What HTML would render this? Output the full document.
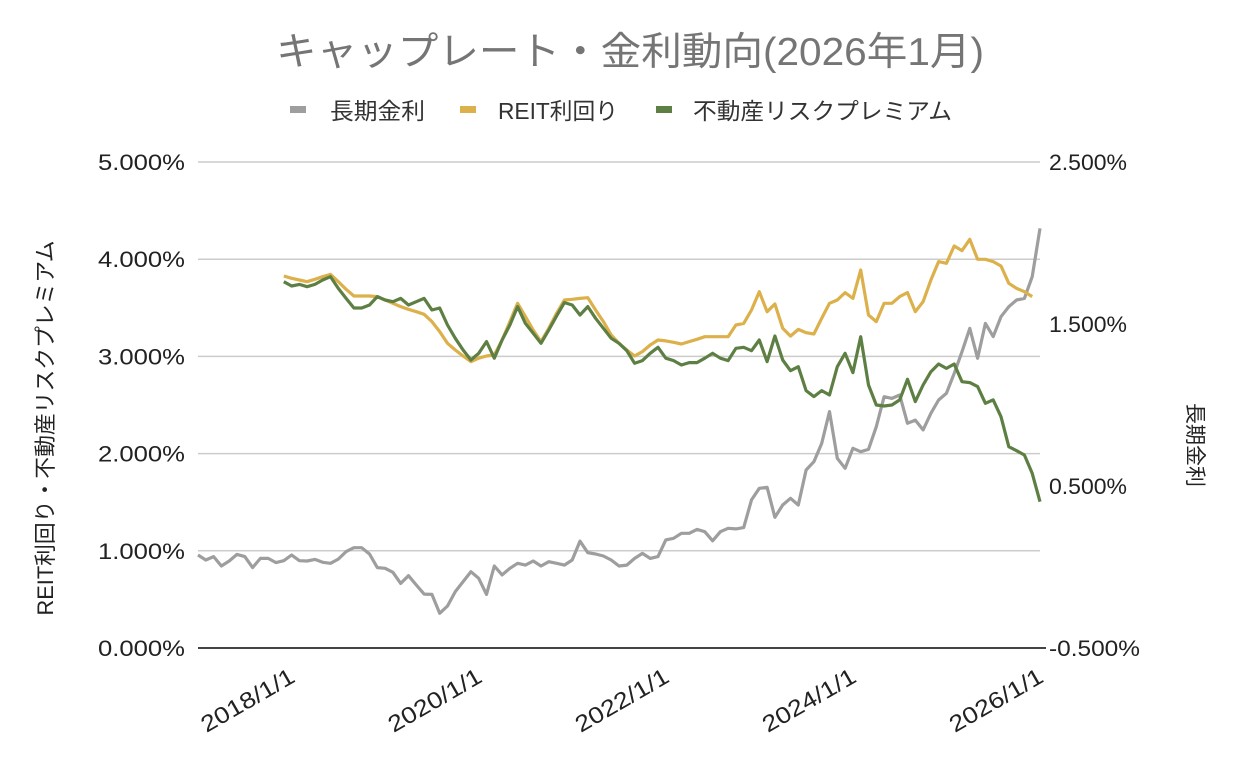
<!DOCTYPE html>
<html><head><meta charset="utf-8">
<style>
html,body{margin:0;padding:0;background:#fff;}
svg text{font-family:"Liberation Sans","Noto Sans CJK JP",sans-serif;}
</style></head>
<body>
<svg id="chart" width="1242" height="764" viewBox="0 0 1242 764" xmlns="http://www.w3.org/2000/svg">
<text x="630" y="65" text-anchor="middle" font-size="39" fill="#757575" textLength="708" lengthAdjust="spacingAndGlyphs">キャップレート・金利動向(2026年1月)</text>
<g>
  <g><rect x="290" y="106" width="16" height="7" fill="#9e9e9e"/><text x="330" y="119" font-size="23" fill="#333" textLength="95" lengthAdjust="spacingAndGlyphs">長期金利</text></g>
  <g><rect x="460" y="106" width="16" height="7" fill="#dcb04a"/><text x="498" y="119" font-size="23" fill="#333" textLength="120" lengthAdjust="spacingAndGlyphs">REIT利回り</text></g>
  <g><rect x="656" y="106" width="16" height="7" fill="#5e7f43"/><text x="693" y="119" font-size="23" fill="#333" textLength="259" lengthAdjust="spacingAndGlyphs">不動産リスクプレミアム</text></g>
</g>
<g id="grid"></g>
<g id="yleft"></g>
<g id="yright"></g>
<g id="xaxis"></g>
<g id="series"></g>
<text transform="translate(53,428) rotate(-90)" text-anchor="middle" font-size="22" fill="#222" textLength="375" lengthAdjust="spacingAndGlyphs">REIT利回り・不動産リスクプレミアム</text>
<text transform="translate(1188,445) rotate(90)" text-anchor="middle" font-size="21" fill="#222">長期金利</text>
</svg>
<script>
const leftTicks=[0,1,2,3,4,5];
const leftTickLabels=["0.000%","1.000%","2.000%","3.000%","4.000%","5.000%"];
const rightTicks=[-0.5,0.5,1.5,2.5];
const rightTickLabels=["-0.500%","0.500%","1.500%","2.500%"];
const xTickMonths=[12,36,60,84,108];
const xTickLabels=["2018/1/1","2020/1/1","2022/1/1","2024/1/1","2026/1/1"];
const totalMonths=108; // 2017/1 .. 2026/1
const longRate=[0.074,0.043,0.064,0.006,0.037,0.078,0.064,-0.004,0.053,0.053,0.027,0.039,0.074,0.039,0.037,0.047,0.029,0.023,0.049,0.095,0.119,0.119,0.080,-0.004,-0.008,-0.033,-0.101,-0.054,-0.111,-0.167,-0.169,-0.286,-0.241,-0.152,-0.090,-0.029,-0.070,-0.169,0.006,
-0.049,-0.008,0.023,0.012,0.037,0.006,0.033,0.023,0.012,0.043,0.160,0.088,0.080,0.068,0.043,0.006,0.012,0.053,0.084,0.053,0.064,0.167,0.177,0.208,0.208,0.232,0.218,0.162,0.218,0.239,0.235,0.243,0.414,0.486,0.492,0.307,
0.383,0.424,0.383,0.599,0.650,0.763,0.959,0.671,0.609,0.733,0.712,0.726,0.866,1.051,1.041,1.062,0.887,0.907,0.846,0.949,1.031,1.072,1.195,1.329,1.473,1.288,1.504,1.422,1.545,1.607,1.648,1.658,1.792,2.090];
const reitStart=11;
const reitYield=[3.827,3.803,3.786,3.769,3.793,3.820,3.844,3.769,3.690,3.621,3.621,3.621,3.615,3.580,3.546,3.512,3.484,3.460,3.433,3.358,3.255,3.135,3.066,3.004,2.946,2.981,3.004,3.014,
3.169,3.358,3.546,3.409,3.272,3.152,3.289,3.443,3.580,3.587,3.597,3.604,3.477,3.358,3.220,3.135,3.066,3.004,3.049,3.117,3.169,3.159,3.145,3.128,3.152,3.176,3.203,3.203,3.203,3.203,3.323,3.340,3.477,3.666,3.460,3.539,
3.289,3.209,3.278,3.244,3.230,3.392,3.546,3.580,3.656,3.597,3.889,3.426,3.358,3.546,3.546,3.615,3.656,3.460,3.563,3.786,3.975,3.958,4.136,4.088,4.205,3.999,3.999,3.975,3.930,3.752,3.700,3.666,3.615];
const premiumStart=11;
const riskPremium=[3.769,3.724,3.741,3.717,3.741,3.786,3.820,3.700,3.597,3.498,3.498,3.529,3.615,3.580,3.563,3.597,3.529,3.563,3.597,3.477,3.498,3.323,3.186,3.066,2.963,3.032,3.152,2.981,
3.169,3.323,3.512,3.340,3.238,3.135,3.272,3.416,3.553,3.529,3.426,3.512,3.392,3.289,3.186,3.135,3.059,2.929,2.957,3.032,3.094,2.981,2.957,2.912,2.936,2.936,2.981,3.032,2.981,2.957,3.083,3.094,3.059,3.169,2.946,3.210,
2.963,2.853,2.894,2.648,2.586,2.648,2.603,2.894,3.032,2.833,3.203,2.706,2.500,2.490,2.500,2.552,2.764,2.535,2.706,2.843,2.922,2.877,2.922,2.740,2.730,2.689,2.518,2.552,2.380,2.071,2.030,1.986,1.797,1.505];

const NS="http://www.w3.org/2000/svg";
const X0=198,X1=1040,YT=162,YB=648;
const xS=m=>X0+(X1-X0)*m/totalMonths;
const yL=v=>YB-(YB-YT)*(v-0)/5;
const yR=v=>YB-(YB-YT)*(v+0.5)/3;
function mk(tag,attrs,parent){const e=document.createElementNS(NS,tag);for(const k in attrs)e.setAttribute(k,attrs[k]);parent.appendChild(e);return e;}
const grid=document.getElementById('grid'),gl=document.getElementById('yleft'),gr=document.getElementById('yright'),gx=document.getElementById('xaxis'),gs=document.getElementById('series');
leftTicks.forEach((v,i)=>{
  if(v!==0){const l=mk('line',{x1:X0,x2:X1,y1:yL(v),y2:yL(v),stroke:'#cccccc','stroke-width':1.5},grid);
  
  }
  const t=mk('text',{x:185,y:yL(v)+8,'text-anchor':'end','font-size':22,fill:'#222',textLength:87,lengthAdjust:'spacingAndGlyphs'},gl);
  
  
  t.textContent=leftTickLabels[i];
});
rightTicks.forEach((v,i)=>{
  const t=mk('text',{x:1049,y:yR(v)+8,'font-size':22,fill:'#222',textLength:rightTickLabels[i].length*13,lengthAdjust:'spacingAndGlyphs'},gr);
  
  
  t.textContent=rightTickLabels[i];
});
const base=mk('line',{x1:X0,x2:X1+6,y1:YB,y2:YB,stroke:'#444','stroke-width':2},gx);


xTickMonths.forEach((m,i)=>{
  const t=mk('text',{transform:`translate(${xS(m)+5},${YB+33}) rotate(-30)`,'text-anchor':'end','font-size':23,fill:'#222',textLength:104,lengthAdjust:'spacingAndGlyphs'},gx);
  
  
  t.textContent=xTickLabels[i];
});
function line(vals,start,yf,color,name){
  const d=vals.map((v,i)=>(i?'L':'M')+xS(start+i).toFixed(1)+','+yf(v).toFixed(1)).join('');
  const p=mk('path',{d:d,fill:'none',stroke:color,'stroke-width':3.2,'stroke-linejoin':'round'},gs);
  
  
}
line(longRate,0,yR,'#9e9e9e','long-rate-line');
line(reitYield,reitStart,yL,'#dcb04a','reit-yield-line');
line(riskPremium,premiumStart,yL,'#5e7f43','risk-premium-line');
</script>
</body></html>
